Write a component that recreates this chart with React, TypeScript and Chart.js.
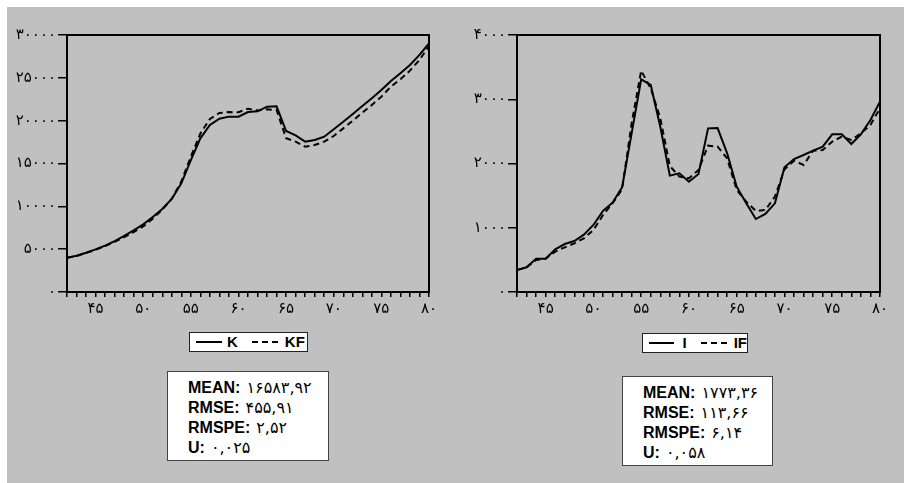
import React, { useEffect, useRef } from "react";
import { Chart, registerables } from "chart.js";

Chart.register(...registerables);

// ---- data ----
const years = [42,43,44,45,46,47,48,49,50,51,52,53,54,55,56,57,58,59,60,61,62,63,64,65,66,67,68,69,70,71,72,73,74,75,76,77,78,79,80];

const K = [4000,4240,4590,4980,5410,5950,6540,7200,7900,8750,9690,10860,12680,15400,17940,19490,20230,20470,20470,21010,21090,21630,21670,18790,18290,17550,17740,18130,18990,19880,20780,21710,22610,23580,24630,25530,26500,27670,29030];
const KF = [4000,4200,4550,4930,5350,5850,6400,7000,7650,8560,9600,10900,12900,15800,18500,20200,20900,21000,20980,21400,21200,21320,21250,17940,17550,16960,17160,17550,18210,19100,20000,20930,21830,22800,23970,24830,25840,27080,28720];

const I = [342,384,519,519,664,747,794,892,1043,1261,1390,1629,2470,3310,3222,2573,1811,1847,1717,1837,2547,2552,2158,1639,1380,1136,1214,1380,1940,2070,2132,2200,2262,2454,2454,2303,2454,2677,2962];
const IF = [342,384,498,519,628,695,757,835,965,1198,1380,1598,2625,3445,3170,2703,1961,1795,1769,1899,2278,2262,2080,1588,1406,1261,1276,1484,1909,2044,1977,2200,2210,2340,2418,2366,2470,2600,2859];

const statLabels = ["MEAN:", "RMSE:", "RMSPE:", "U:"];
const statsK = ["16583,92", "455,91", "2,52", "0,025"];
const statsI = ["1773,36", "113,66", "6,14", "0,058"];

const FA = "۰۱۲۳۴۵۶۷۸۹";
const fa = (s: string | number) => String(s).replace(/\d/g, (d) => FA[Number(d)]);

const framePlugin = {
  id: "frame",
  afterDatasetsDraw(chart: any) {
    const { ctx, chartArea } = chart;
    ctx.save();
    ctx.strokeStyle = "#000";
    ctx.lineWidth = 2;
    ctx.strokeRect(chartArea.left, chartArea.top, chartArea.right - chartArea.left, chartArea.bottom - chartArea.top);
    ctx.restore();
  },
};

function LineChart({ left, solid, dashed, yMax, yStep, padRight }: any) {
  const ref = useRef<HTMLCanvasElement>(null);
  useEffect(() => {
    const chart = new Chart(ref.current!, {
      type: "line",
      data: {
        datasets: [
          {
            data: years.map((x, i) => ({ x, y: solid[i] })),
            borderColor: "#000",
            borderWidth: 2,
            pointRadius: 0,
            tension: 0,
          },
          {
            data: years.map((x, i) => ({ x, y: dashed[i] })),
            borderColor: "#000",
            borderWidth: 2,
            borderDash: [6, 4],
            pointRadius: 0,
            tension: 0,
          },
        ],
      },
      options: {
        animation: false,
        responsive: false,
        devicePixelRatio: 1,
        layout: { padding: { top: 28, right: padRight, left: 0, bottom: 0 } },
        plugins: { legend: { display: false }, tooltip: { enabled: false } },
        scales: {
          x: {
            type: "linear",
            min: 42,
            max: 80,
            afterFit: (s: any) => { s.height = 25; },
            border: { display: false },
            grid: { drawOnChartArea: false, drawTicks: true, tickLength: 5, color: "#000", lineWidth: 1.5 },
            ticks: {
              stepSize: 1,
              autoSkip: false,
              maxRotation: 0,
              padding: 3,
              color: "#000",
              font: { family: "DejaVu Sans", size: 15 },
              callback: (v: any) => (Number(v) % 5 === 0 && Number(v) >= 45 ? fa(v) : ""),
            },
          },
          y: {
            min: 0,
            max: yMax,
            afterFit: (s: any) => { s.width = 60; },
            border: { display: false },
            grid: { drawOnChartArea: false, drawTicks: true, tickLength: 9, color: "#000", lineWidth: 1.5 },
            ticks: {
              stepSize: yStep,
              padding: 2,
              color: "#000",
              font: { family: "DejaVu Sans", size: 15 },
              callback: (v: any) => fa(v),
            },
          },
        },
      },
      plugins: [framePlugin],
    } as any);
    return () => chart.destroy();
  }, []);
  return (
    <canvas
      ref={ref}
      width={440}
      height={310}
      style={{ position: "absolute", left, top: 7, width: 440, height: 310 }}
    />
  );
}

function DashSample() {
  return (
    <svg width={28} height={4} style={{ display: "block" }}>
      <line x1={0} y1={2} x2={28} y2={2} stroke="#000" strokeWidth={2} strokeDasharray="6 4" />
    </svg>
  );
}

function Legend({ left, top, width, a, b, gap1, gap2 }: any) {
  return (
    <div
      style={{
        position: "absolute", left, top, width, height: 18, background: "#fff",
        border: "1px solid #222", display: "flex", alignItems: "center", paddingLeft: 6,
        boxSizing: "content-box",
        fontFamily: "'Liberation Sans', Arial, sans-serif", fontWeight: "bold", fontSize: 15, color: "#000",
      }}
    >
      <div style={{ width: 26, borderTop: "2px solid #000" }} />
      <span style={{ marginLeft: gap1, lineHeight: "18px" }}>{a}</span>
      <div style={{ marginLeft: gap2 }}><DashSample /></div>
      <span style={{ marginLeft: 5, lineHeight: "18px" }}>{b}</span>
    </div>
  );
}

function Stats({ left, top, width, height, values }: any) {
  return (
    <div
      style={{
        position: "absolute", left, top, width, height, background: "#fff",
        border: "1px solid #444", boxSizing: "border-box", paddingLeft: 20, paddingTop: 6,
        color: "#000",
      }}
    >
      {statLabels.map((l, i) => (
        <div key={l} style={{ height: 20, lineHeight: "20px", whiteSpace: "nowrap" }}>
          <span style={{ fontFamily: "'Liberation Sans', Arial, sans-serif", fontWeight: "bold", fontSize: 16 }}>{l}</span>
          <span style={{ fontFamily: "'DejaVu Sans', sans-serif", fontSize: 16, marginLeft: 6 }}>{fa(values[i])}</span>
        </div>
      ))}
    </div>
  );
}

export default function App() {
  return (
    <div style={{ position: "fixed", left: 0, top: 0, width: 904, height: 483, background: "#fff", overflow: "hidden" }}>
      <div style={{ position: "absolute", left: 7, top: 7, width: 897, height: 476, background: "#c0c0c0" }} />
      <LineChart left={7} solid={K} dashed={KF} yMax={30000} yStep={5000} padRight={18} />
      <LineChart left={457} solid={I} dashed={IF} yMax={4000} yStep={1000} padRight={17} />
      <Legend left={189} top={332} width={111} a="K" b="KF" gap1={5} gap2={14} />
      <Legend left={642} top={333} width={98} a="I" b="IF" gap1={8} gap2={14} />
      <Stats left={167} top={371} width={162} height={90} values={statsK} />
      <Stats left={622} top={376} width={151} height={90} values={statsI} />
    </div>
  );
}
